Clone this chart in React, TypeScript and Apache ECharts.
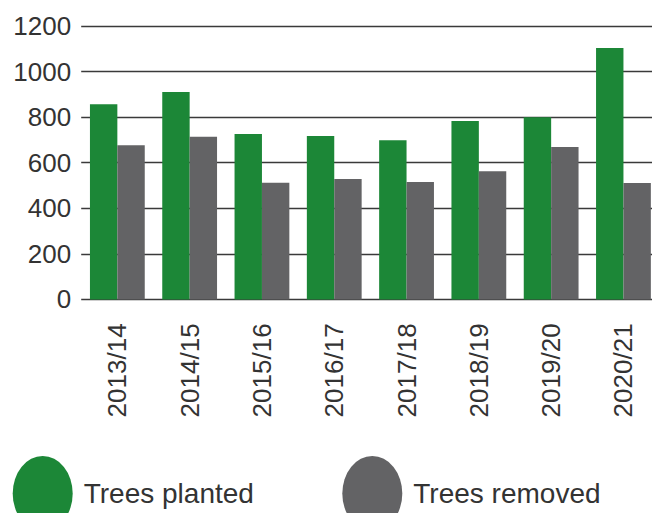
import React, { useEffect, useRef } from "react";
import * as echarts from "echarts";

const categories = ["2013/14", "2014/15", "2015/16", "2016/17", "2017/18", "2018/19", "2019/20", "2020/21"];
const treesPlanted = [857, 910, 726, 717, 699, 783, 800, 1103];
const treesRemoved = [677, 714, 512, 528, 515, 563, 669, 511];
const yTicks = { min: 0, max: 1200, interval: 200 };
const seriesNames = ["Trees planted", "Trees removed"];

const FONT = "Liberation Sans";
const ELLIPSE = "path://M0,50 A50,50 0 1,1 100,50 A50,50 0 1,1 0,50 Z";

export default function App() {
  const ref = useRef<HTMLDivElement>(null);
  useEffect(() => {
    const chart = echarts.init(ref.current!, null, { renderer: "svg" });
    const legendBase = {
      top: 456,
      itemWidth: 60,
      itemHeight: 75,
      icon: ELLIPSE,
      symbolKeepAspect: false,
      selectedMode: false,
      padding: 0,
      textStyle: { fontFamily: FONT, fontSize: 28, color: "#333", padding: [0, 0, 16, 6] },
    };
    chart.setOption({
      animation: false,
      grid: { left: 81.2, top: 26, width: 578.4, height: 273.4 },
      legend: [
        { ...legendBase, left: 12.7, data: [seriesNames[0]] },
        { ...legendBase, left: 342.3, data: [seriesNames[1]] },
      ],
      xAxis: {
        type: "category",
        data: categories,
        axisLine: { show: false },
        axisTick: { show: false },
        axisLabel: { rotate: 90, margin: 24, fontFamily: FONT, fontSize: 26, color: "#333" },
      },
      yAxis: {
        type: "value",
        min: yTicks.min,
        max: yTicks.max,
        interval: yTicks.interval,
        axisLine: { show: false },
        axisTick: { show: false },
        axisLabel: {
          margin: 10,
          fontFamily: FONT,
          fontSize: 26,
          color: "#333",
          formatter: (v: number) => String(v),
        },
        splitLine: { lineStyle: { color: "#3a3a3a", width: 1.3 } },
      },
      series: [
        {
          name: seriesNames[0],
          type: "bar",
          data: treesPlanted,
          itemStyle: { color: "#1c8737" },
          barGap: "0%",
          barWidth: 27.4,
        },
        {
          name: seriesNames[1],
          type: "bar",
          data: treesRemoved,
          itemStyle: { color: "#636365" },
          barGap: "0%",
          barWidth: 27.4,
        },
      ],
    });
    return () => chart.dispose();
  }, []);
  return (
    <div style={{ width: 652, height: 513, position: "absolute", left: 0, top: 0, overflow: "hidden" }}>
      <div ref={ref} style={{ width: 664, height: 513 }} />
    </div>
  );
}
